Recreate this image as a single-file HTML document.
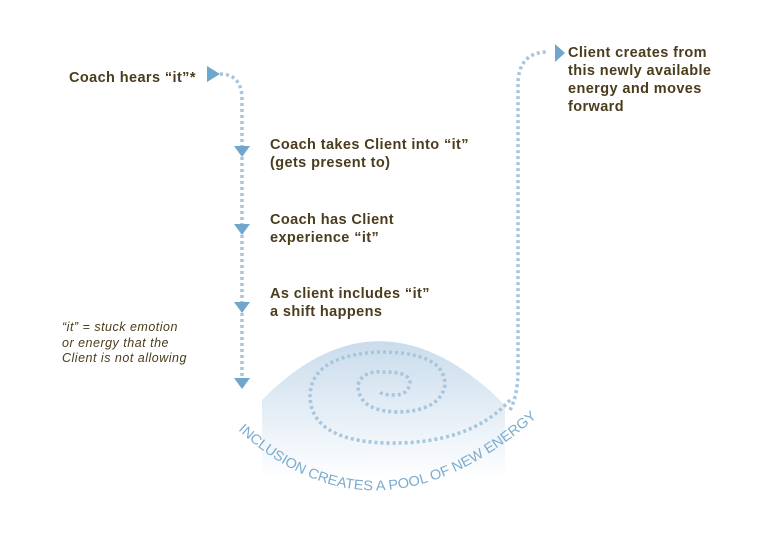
<!DOCTYPE html>
<html><head><meta charset="utf-8"><style>
body{margin:0;background:#fff}
svg{display:block}
.t{font-family:"Liberation Sans",sans-serif;font-weight:bold;font-size:14.5px;fill:#4a3c1c;letter-spacing:0.4px}
.n{font-family:"Liberation Sans",sans-serif;font-style:italic;font-size:12.5px;fill:#4a3c1c;letter-spacing:0.5px}
</style></head><body>
<svg width="779" height="534" viewBox="0 0 779 534">
<defs>
<linearGradient id="g" x1="0" y1="0" x2="0" y2="1">
<stop offset="0" stop-color="#c9dcec"/><stop offset="1" stop-color="#ffffff"/>
</linearGradient>
<path id="arc" d="M238,430 Q380,560 545,410"/>
</defs>
<path d="M262,400 Q380,280 505,405 L505,480 L262,480 Z" fill="url(#g)"/>
<g fill="none" stroke="#a7c6de" stroke-width="3.5" stroke-dasharray="3,3">
<path d="M220,74 Q242,74 242,100 L242,380"/>
<path d="M510,410 Q518,395 518,370 L518,85 Q518,52 548,52"/>
<path d="M510,400 Q470,445 385,443 Q310,440 310,395 Q312,355 380,352 Q445,352 445,385 Q440,412 395,412 Q358,410 358,385 Q362,370 385,372 Q410,372 410,383 Q408,395 395,395 Q382,395 380,392"/>
</g>
<g fill="#6fa7cc">
<polygon points="207,66 220,74 207,82"/>
<polygon points="555,44 565,53 555,62"/>
<polygon points="234,146 250,146 242,157"/>
<polygon points="234,224 250,224 242,235"/>
<polygon points="234,302 250,302 242,313"/>
<polygon points="234,378 250,378 242,389"/>
</g>
<text class="t" x="69" y="82">Coach hears “it”*</text>
<text class="t" x="270" y="149">Coach takes Client into “it”</text>
<text class="t" x="270" y="167">(gets present to)</text>
<text class="t" x="270" y="224">Coach has Client</text>
<text class="t" x="270" y="242">experience “it”</text>
<text class="t" x="270" y="298">As client includes “it”</text>
<text class="t" x="270" y="316">a shift happens</text>
<text class="t" x="568" y="57">Client creates from</text>
<text class="t" x="568" y="75">this newly available</text>
<text class="t" x="568" y="93">energy and moves</text>
<text class="t" x="568" y="111">forward</text>
<text class="n" x="62" y="331">“it” = stuck emotion</text>
<text class="n" x="62" y="347">or energy that the</text>
<text class="n" x="62" y="362">Client is not allowing</text>
<text font-family="Liberation Sans,sans-serif" font-size="14" fill="#7aaccd"><textPath href="#arc" textLength="335" lengthAdjust="spacingAndGlyphs">INCLUSION CREATES A POOL OF NEW ENERGY</textPath></text>
</svg>
</body></html>
